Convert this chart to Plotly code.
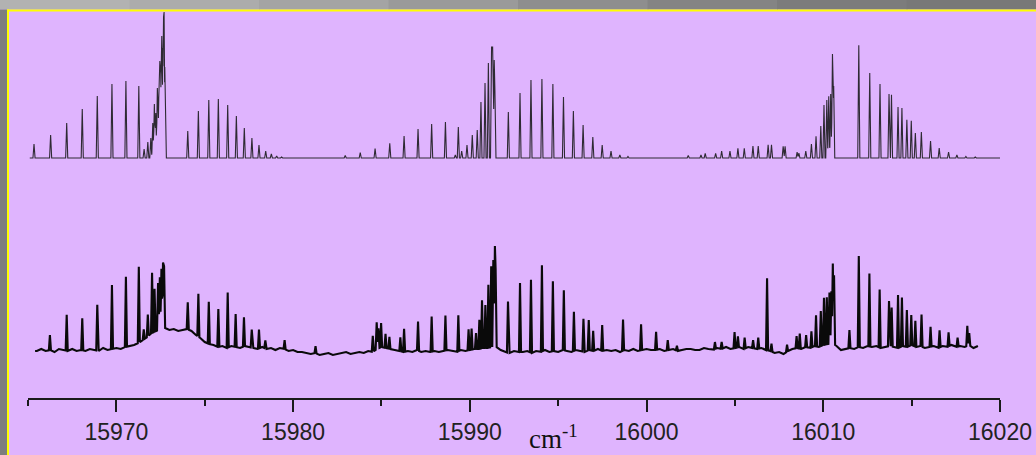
import numpy as np
import plotly.graph_objects as go

W, H = 1036, 455

# ---------------- data (wavenumber in cm-1, intensity in arbitrary units) -------------
# Upper spectrum (simulated) : line positions and intensities
top_pos = [
    15965.34, 15966.28, 15967.19, 15968.07, 15968.92, 15969.75, 15970.54, 15971.27,
    15971.57, 15971.78, 15971.95, 15972.06, 15972.15, 15972.23, 15972.32, 15972.40,
    15972.46, 15972.51, 15972.57, 15972.63, 15972.67, 15972.70, 15972.74, 15972.77,
    15974.04, 15974.64, 15975.23, 15975.77, 15976.30, 15976.79, 15977.24, 15977.67,
    15978.07, 15978.45, 15978.77, 15979.07, 15979.35,
    15982.95, 15983.80, 15984.64, 15985.47, 15986.28, 15987.07, 15987.84, 15988.62,
    15989.18, 15989.35, 15989.54, 15989.84, 15990.14, 15990.42, 15990.63, 15990.86,
    15991.05, 15991.23, 15991.29, 15991.38, 15991.42,
    15992.18, 15992.84, 15993.46, 15994.08, 15994.70, 15995.30, 15995.86, 15996.41,
    15996.96, 15997.49, 15997.99, 15998.49, 15998.95,
    16002.36, 16003.08, 16003.32, 16003.91, 16004.25, 16004.72, 16005.17, 16005.53,
    16006.02, 16006.32, 16006.88, 16007.07, 16007.73, 16007.84, 16008.52, 16008.62,
    16009.01, 16009.33, 16009.59, 16009.86, 16010.04, 16010.20, 16010.31, 16010.42,
    16010.52, 16010.59,
    16012.01, 16012.63, 16013.21, 16013.72, 16013.86, 16014.23, 16014.45, 16014.73,
    16014.98, 16015.21, 16015.55, 16016.07, 16016.56, 16017.09, 16017.56, 16018.07,
    16018.60,
]
top_int = [
    14, 23, 35, 49, 62, 74, 77, 72,
    9, 16, 20, 35, 54, 45, 70, 60,
    97, 85, 122, 110, 141, 146, 91, 60,
    27, 47, 58, 59, 53, 42, 30, 20,
    13, 7, 4, 2, 1,
    2.5, 5.5, 9.5, 14.7, 22, 29, 34, 36,
    3, 31, 7, 13, 23, 28, 56, 75,
    95, 111, 111, 98, 68,
    46, 65, 78, 79, 74, 61, 47, 33,
    21, 13, 7, 3, 1.5,
    2.5, 3, 4.5, 4.5, 7, 7, 9.7, 9.7,
    12, 12, 13.3, 13.3, 11.7, 11.7, 6, 5,
    7, 14, 21.7, 32, 53, 58, 61.7, 64,
    104, 72,
    112.7, 85, 74, 64, 63.3, 51, 50, 38.3,
    37.3, 25, 26, 17, 10, 6, 3, 1.5,
    1,
]
top_base_x = [15965.1, 16020.0]
top_base_y = [0, 0]

# Lower spectrum (experimental) : line positions and intensities
bot_pos = [
    15966.24, 15967.19, 15968.07, 15968.92, 15969.75, 15970.54, 15971.27, 15971.55,
    15971.78, 15972.02, 15972.16, 15972.36, 15972.46, 15972.55, 15972.64, 15972.70,
    15974.04, 15974.64, 15975.23, 15975.77, 15976.30, 15976.75, 15977.22, 15977.66,
    15978.07, 15978.43, 15979.52, 15981.27,
    15984.51, 15984.73, 15984.83, 15984.98, 15985.23, 15985.45, 15986.07, 15986.28,
    15987.07, 15987.84, 15988.62, 15989.35, 15989.93, 15990.10, 15990.35, 15990.54,
    15990.69, 15990.88, 15991.05, 15991.21, 15991.33, 15991.42, 15991.46,
    15992.16, 15992.84, 15993.46, 15994.08, 15994.70, 15995.32, 15995.89, 15996.43,
    15996.73, 15996.98, 15997.49, 15998.67, 15999.69, 16000.54, 16001.20, 16001.72,
    16003.87, 16004.25, 16004.98, 16005.17, 16005.55, 16006.03, 16006.32, 16006.82,
    16007.07, 16007.95, 16008.49, 16008.67, 16009.03, 16009.33, 16009.59, 16009.86,
    16010.04, 16010.20, 16010.35, 16010.46, 16010.54, 16010.61, 16011.48,
    16012.01, 16012.61, 16013.19, 16013.72, 16013.87, 16014.23, 16014.45, 16014.73,
    16014.98, 16015.21, 16015.56, 16016.07, 16016.58, 16017.09, 16017.60, 16018.15,
    16018.26,
]
bot_int = [
    15, 36, 32, 46, 64, 70, 76, 10,
    22, 60, 43, 47, 52, 60, 66, 62,
    27, 43, 42, 38, 55, 33, 29, 18,
    19, 8, 9, 7,
    16, 27, 20, 24, 14, 12, 14, 23,
    29, 35, 35, 36, 21, 21, 16, 29,
    48, 43, 63, 81, 87, 101, 78,
    51, 69, 73, 86, 70, 60, 39, 33,
    30, 20, 26, 31, 26, 18, 10, 5,
    7, 7, 16, 11, 11, 8, 11, 72,
    8, 7, 12, 15, 12, 16, 31, 35,
    47, 47, 51, 52, 80, 69, 18,
    91, 73, 58, 45, 39, 53, 49, 37,
    30, 26, 32, 20, 17, 14, 9, 20,
    12,
]
# Lower spectrum baseline (with its noise), read every 0.25 cm-1
bot_base_x = [
    15965.40,
    15965.50, 15965.75, 15966.00, 15966.25, 15966.50, 15966.75, 15967.00, 15967.25, 15967.50, 15967.75,
    15968.00, 15968.25, 15968.50, 15968.75, 15969.00, 15969.25, 15969.50, 15969.75, 15970.00, 15970.25,
    15970.50, 15970.75, 15971.00, 15971.25, 15971.50, 15971.75, 15972.00, 15972.25, 15972.50, 15972.75,
    15973.00, 15973.25, 15973.50, 15973.75, 15974.00, 15974.25, 15974.50, 15974.75, 15975.00, 15975.25,
    15975.50, 15975.75, 15976.00, 15976.25, 15976.50, 15976.75, 15977.00, 15977.25, 15977.50, 15977.75,
    15978.00, 15978.25, 15978.50, 15978.75, 15979.00, 15979.25, 15979.50, 15979.75, 15980.00, 15980.25,
    15980.50, 15980.75, 15981.00, 15981.25, 15981.50, 15981.75, 15982.00, 15982.25, 15982.50, 15982.75,
    15983.00, 15983.25, 15983.50, 15983.75, 15984.00, 15984.25, 15984.50, 15984.75, 15985.00, 15985.25,
    15985.50, 15985.75, 15986.00, 15986.25, 15986.50, 15986.75, 15987.00, 15987.25, 15987.50, 15987.75,
    15988.00, 15988.25, 15988.50, 15988.75, 15989.00, 15989.25, 15989.50, 15989.75, 15990.00, 15990.25,
    15990.50, 15990.75, 15991.00, 15991.25, 15991.50, 15991.75, 15992.00, 15992.25, 15992.50, 15992.75,
    15993.00, 15993.25, 15993.50, 15993.75, 15994.00, 15994.25, 15994.50, 15994.75, 15995.00, 15995.25,
    15995.50, 15995.75, 15996.00, 15996.25, 15996.50, 15996.75, 15997.00, 15997.25, 15997.50, 15997.75,
    15998.00, 15998.25, 15998.50, 15998.75, 15999.00, 15999.25, 15999.50, 15999.75, 16000.00, 16000.25,
    16000.50, 16000.75, 16001.00, 16001.25, 16001.50, 16001.75, 16002.00, 16002.25, 16002.50, 16002.75,
    16003.00, 16003.25, 16003.50, 16003.75, 16004.00, 16004.25, 16004.50, 16004.75, 16005.00, 16005.25,
    16005.50, 16005.75, 16006.00, 16006.25, 16006.50, 16006.75, 16007.00, 16007.25, 16007.50, 16007.75,
    16008.00, 16008.25, 16008.50, 16008.75, 16009.00, 16009.25, 16009.50, 16009.75, 16010.00, 16010.25,
    16010.50, 16010.75, 16011.00, 16011.25, 16011.50, 16011.75, 16012.00, 16012.25, 16012.50, 16012.75,
    16013.00, 16013.25, 16013.50, 16013.75, 16014.00, 16014.25, 16014.50, 16014.75, 16015.00, 16015.25,
    16015.50, 16015.75, 16016.00, 16016.25, 16016.50, 16016.75, 16017.00, 16017.25, 16017.50, 16017.75,
    16018.00, 16018.25, 16018.50, 16018.75,
]
bot_base_y = [
    -1,
    -1, 1, -1, 0, -2, 1, 0, -1, 1, -1,
    0, -1, 1, 0, -1, 2, 0, 1, 2, 1,
    3, 4, 5, 7, 10, 13, 17, 19, 21, 22,
    20, 21, 19, 20, 21, 19, 15, 12, 8, 6,
    5, 3, 4, 2, 4, 3, 2, 4, 3, 2,
    1, 3, 1, 2, 0, 2, 1, -1, 0, -2,
    -2, -3, -4, -3, -5, -4, -3, -5, -4, -3,
    -2, -4, -3, -2, -3, -1, -2, 1, 3, 2,
    1, 0, -1, -2, -1, -2, 0, -2, -1, -2,
    -1, -2, -1, 0, -1, -2, 0, -1, 0, 1,
    1, 2, 2, 3, 3, 0, -2, -3, -1, -2,
    -2, -1, -3, -1, -2, 0, -2, -1, -2, 0,
    -1, -2, 0, -1, -2, 0, -1, 1, -1, 0,
    -1, 0, -2, 0, -1, 1, -1, 0, 1, 0,
    0, 1, -1, 0, 1, -1, 0, 1, 1, 0,
    0, 2, 1, 0, 2, 1, 3, 1, 2, 3,
    1, 3, 2, 1, 2, 0, -1, -3, -2, -4,
    -1, 1, 2, 1, 3, 2, 4, 3, 5, 6,
    7, 4, 0, 1, 2, 1, 3, 2, 4, 3,
    4, 2, 3, 4, 3, 2, 4, 3, 5, 3,
    4, 2, 3, 4, 2, 4, 3, 5, 3, 4,
    3, 5, 2, 4,
]

x_ticks = [15970, 15980, 15990, 16000, 16010, 16020]
x_title = "cm<sup>-1</sup>"

# ---------------- helpers ----------------
HW = 0.06  # half-width of a drawn line (cm-1)


def spectrum(pos, inten, bx, by):
    pos = np.asarray(pos, float)
    inten = np.asarray(inten, float)
    xs = set(bx)
    for p in pos:
        xs.update([p - HW, p, p + HW])
    xs = np.array(sorted(x for x in xs if bx[0] <= x <= bx[-1]))
    base = np.interp(xs, bx, by)
    spikes = np.clip(1 - np.abs(xs[:, None] - pos[None, :]) / HW, 0, None) * inten[None, :]
    return xs, base + spikes.max(axis=1)


tx, ty = spectrum(top_pos, top_int, top_base_x, top_base_y)
bx, by = spectrum(bot_pos, bot_int, bot_base_x, bot_base_y)

PURPLE = "#dfb4fe"

fig = go.Figure()
fig.add_trace(go.Scatter(x=tx, y=ty, mode="lines", yaxis="y2",
                         line=dict(color="#2e2a33", width=1.1), hoverinfo="skip"))
fig.add_trace(go.Scatter(x=bx, y=by, mode="lines", yaxis="y",
                         line=dict(color="#0a0a0a", width=2.1), hoverinfo="skip"))

ydom = [57 / H, 444 / H]
fig.update_layout(
    width=W, height=H,
    margin=dict(l=0, r=0, t=0, b=0, pad=0, autoexpand=False),
    paper_bgcolor=PURPLE, plot_bgcolor=PURPLE,
    showlegend=False,
    xaxis=dict(domain=[28 / W, 1000 / W], range=[15965, 16020], automargin=False,
               showline=True, linecolor="#1a1a1a", linewidth=2,
               ticks="outside", ticklen=12, tickwidth=2, tickcolor="#1a1a1a",
               tickvals=x_ticks, ticktext=[str(v) for v in x_ticks],
               tickfont=dict(family="Liberation Sans, Arial, sans-serif", size=23, color="#222222"),
               showgrid=False, zeroline=False,
               minor=dict(dtick=5, tick0=15965, ticks="outside", ticklen=6,
                          tickwidth=2, tickcolor="#1a1a1a", showgrid=False)),
    yaxis=dict(domain=ydom, range=[-48, 339], visible=False, showgrid=False,
               zeroline=False, automargin=False),
    yaxis2=dict(domain=ydom, range=[-240, 147], overlaying="y", visible=False,
                showgrid=False, zeroline=False, automargin=False),
)


# frame: grey strips and yellow border lines (paper coordinates = figure pixels)
def px(x):
    return x / W


def py(y):
    return (H - y) / H


frame_greys = ["#b2b2b2", "#acacac", "#a4a4a4", "#9a9a9a", "#8e8e8e", "#848484", "#7c7c7c", "#787878"]
seg = W / len(frame_greys)
shapes = []
for i, g in enumerate(frame_greys):
    shapes.append(dict(type="rect", xref="paper", yref="paper", x0=px(i * seg), x1=px((i + 1) * seg + 1),
                       y0=py(0), y1=py(9.5), fillcolor=g, line=dict(width=0), layer="above"))
shapes += [
    dict(type="rect", xref="paper", yref="paper", x0=px(0), x1=px(7), y0=py(9.5), y1=py(H),
         fillcolor="#7e7e7e", line=dict(width=0), layer="above"),
    dict(type="rect", xref="paper", yref="paper", x0=px(7), x1=px(W), y0=py(9.5), y1=py(11.5),
         fillcolor="#ffff00", line=dict(width=0), layer="above"),
    dict(type="rect", xref="paper", yref="paper", x0=px(7), x1=px(9), y0=py(9.5), y1=py(H),
         fillcolor="#ffff00", line=dict(width=0), layer="above"),
]
fig.update_layout(shapes=shapes)

fig.add_annotation(text=x_title, xref="paper", yref="paper", x=px(527), y=py(437),
                   xanchor="left", yanchor="middle", showarrow=False,
                   font=dict(family="Liberation Serif, Times New Roman, serif", size=27, color="#111111"))

fig.write_html("out.html")
